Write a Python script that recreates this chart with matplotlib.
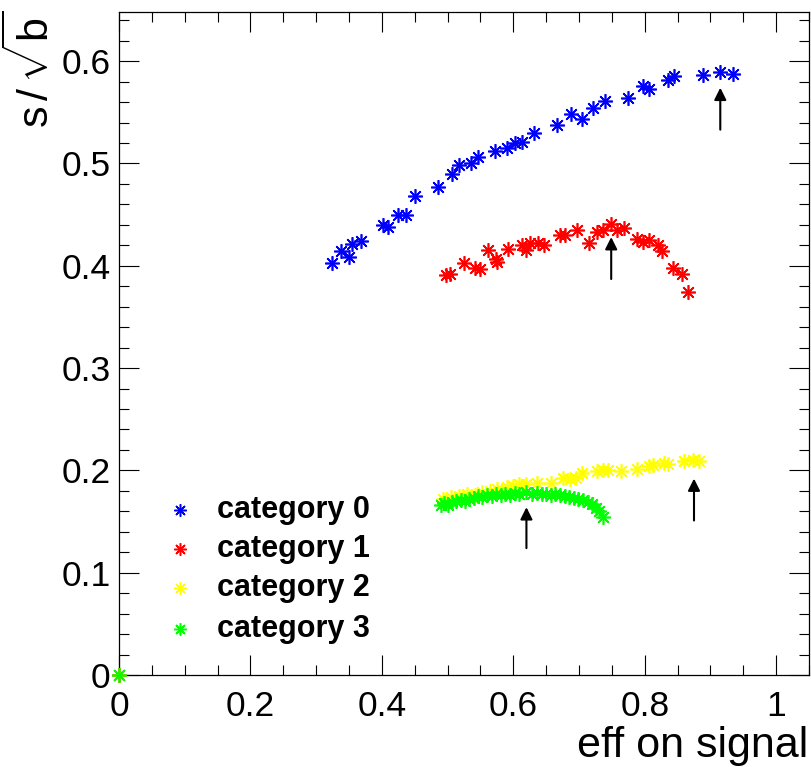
import matplotlib
matplotlib.use("Agg")
import matplotlib.pyplot as plt
from matplotlib.ticker import MultipleLocator, FuncFormatter

plt.rcParams['font.family'] = ['Liberation Sans', 'DejaVu Sans']
plt.rcParams['mathtext.fontset'] = 'custom'
plt.rcParams['mathtext.rm'] = 'Liberation Sans'
plt.rcParams['mathtext.it'] = 'Liberation Sans'

# ---------------- data ----------------
cat_names = ["category 0", "category 1", "category 2", "category 3"]
cat_colors = ["#0000ff", "#ff0000", "#ffff00", "#00ff00"]

eff0 = [0.0, 0.324, 0.338, 0.350, 0.354, 0.369, 0.401, 0.409, 0.424, 0.436, 0.450,
        0.485, 0.507, 0.518, 0.536, 0.547, 0.572, 0.590, 0.603, 0.614, 0.631,
        0.667, 0.688, 0.704, 0.722, 0.740, 0.774, 0.798, 0.806, 0.836, 0.845,
        0.888, 0.915, 0.935]
sig0 = [0.0, 0.403, 0.414, 0.409, 0.421, 0.424, 0.440, 0.438, 0.450, 0.450, 0.468,
        0.477, 0.490, 0.498, 0.500, 0.506, 0.512, 0.515, 0.520, 0.521, 0.530,
        0.538, 0.548, 0.543, 0.554, 0.561, 0.564, 0.576, 0.573, 0.582, 0.585,
        0.586, 0.589, 0.587]

eff1 = [0.0, 0.498, 0.504, 0.525, 0.541, 0.549, 0.562, 0.573, 0.575, 0.592, 0.614,
        0.620, 0.626, 0.637, 0.647, 0.671, 0.679, 0.697, 0.715, 0.727, 0.737,
        0.749, 0.758, 0.768, 0.789, 0.798, 0.806, 0.820, 0.826, 0.843, 0.856,
        0.866]
sig1 = [0.0, 0.391, 0.392, 0.403, 0.398, 0.397, 0.415, 0.407, 0.404, 0.416, 0.420,
        0.415, 0.422, 0.422, 0.420, 0.430, 0.430, 0.435, 0.422, 0.433, 0.435,
        0.441, 0.435, 0.437, 0.426, 0.423, 0.425, 0.420, 0.414, 0.398, 0.392,
        0.374]

eff2 = [0.0, 0.493, 0.497, 0.505, 0.518, 0.530, 0.541, 0.552, 0.564, 0.575, 0.583,
        0.590, 0.600, 0.608, 0.620, 0.636, 0.658, 0.676, 0.686, 0.696, 0.704,
        0.727, 0.736, 0.744, 0.764, 0.789, 0.807, 0.812, 0.830, 0.835, 0.860,
        0.873, 0.883]
sig2 = [0.0, 0.172, 0.170, 0.174, 0.175, 0.177, 0.176, 0.179, 0.180, 0.182, 0.181,
        0.184, 0.185, 0.187, 0.187, 0.188, 0.188, 0.193, 0.192, 0.193, 0.197,
        0.199, 0.200, 0.200, 0.199, 0.201, 0.204, 0.205, 0.207, 0.206, 0.209,
        0.210, 0.209]

eff3 = [0.0, 0.490, 0.495, 0.500, 0.507, 0.513, 0.520, 0.526, 0.533, 0.540, 0.547,
        0.553, 0.560, 0.567, 0.574, 0.581, 0.588, 0.595, 0.602, 0.609, 0.620,
        0.629, 0.636, 0.643, 0.650, 0.657, 0.664, 0.671, 0.678, 0.685, 0.692,
        0.699, 0.706, 0.713, 0.720, 0.726, 0.731, 0.737]
sig3 = [0.0, 0.166, 0.168, 0.166, 0.169, 0.170, 0.171, 0.170, 0.172, 0.173, 0.175,
        0.174, 0.176, 0.175, 0.177, 0.176, 0.177, 0.176, 0.178, 0.177, 0.179,
        0.177, 0.178, 0.177, 0.177, 0.176, 0.177, 0.176, 0.175, 0.174, 0.173,
        0.172, 0.171, 0.169, 0.167, 0.163, 0.160, 0.154]

# best-point arrows (x, tail y, head y)
arrow_x = [0.915, 0.749, 0.875, 0.620]
arrow_tail = [0.533, 0.387, 0.151, 0.124]
arrow_head = [0.574, 0.428, 0.192, 0.164]

series_x = [eff0, eff1, eff2, eff3]
series_y = [sig0, sig1, sig2, sig3]

xlim = (0.0, 1.05)
ylim = (0.0, 0.648)

# ---------------- figure ----------------
W, H = 811, 767
fig = plt.figure(figsize=(W / 100, H / 100), dpi=100)
ax = fig.add_axes([119 / W, 1 - 675 / H, (809 - 119) / W, (675 - 12) / H])

asterisk = (8, 2, 0)
for xs, ys, c in zip(series_x, series_y, cat_colors):
    ax.plot(xs, ys, linestyle='none', marker=asterisk, markersize=10.5,
            markeredgewidth=1.2, color=c, markeredgecolor=c, clip_on=False,
            zorder=3)

for xa, yt, yh in zip(arrow_x, arrow_tail, arrow_head):
    ax.annotate('', xy=(xa, yh), xytext=(xa, yt),
                arrowprops=dict(arrowstyle='-|>', color='black', lw=1.5,
                                mutation_scale=18, shrinkA=0, shrinkB=0),
                zorder=4)

ax.set_xlim(*xlim)
ax.set_ylim(*ylim)

ax.xaxis.set_major_locator(MultipleLocator(0.2))
ax.xaxis.set_minor_locator(MultipleLocator(0.05))
ax.yaxis.set_major_locator(MultipleLocator(0.1))
ax.yaxis.set_minor_locator(MultipleLocator(0.02))
fmt = FuncFormatter(lambda v, p: '%g' % round(v, 6))
ax.xaxis.set_major_formatter(fmt)
ax.yaxis.set_major_formatter(fmt)

ax.tick_params(which='both', direction='in', top=True, right=True,
               width=0.8, colors='black')
ax.tick_params(which='major', length=14.5)
ax.tick_params(which='minor', length=7.2)
ax.tick_params(axis='x', which='major', labelsize=25.5, pad=11)
ax.tick_params(axis='y', which='major', labelsize=25.5, pad=6)
for s in ax.spines.values():
    s.set_linewidth(0.9)

# legend (manual, ROOT-style), positions in data coordinates
leg_x_marker = 0.0927
leg_x_text = 0.1485
leg_y = [0.1617, 0.1236, 0.0846, 0.0446]
for name, c, ly in zip(cat_names, cat_colors, leg_y):
    ax.plot([leg_x_marker], [ly], linestyle='none', marker=asterisk,
            markersize=9, markeredgewidth=1.1, color=c, zorder=3)
    ax.text(leg_x_text, ly, name, fontsize=22, fontweight='bold', va='center',
            ha='left', color='black')

fig.text(808 / W, 1 - 757 / H, 'eff on signal', fontsize=31, ha='right',
         va='baseline')
fig.text(58 / W, 1 - 10 / H, r'$\mathregular{s\,/\,\sqrt{b}}$', fontsize=31,
         rotation=90, ha='right', va='top')

fig.savefig('out.png', dpi=100)
